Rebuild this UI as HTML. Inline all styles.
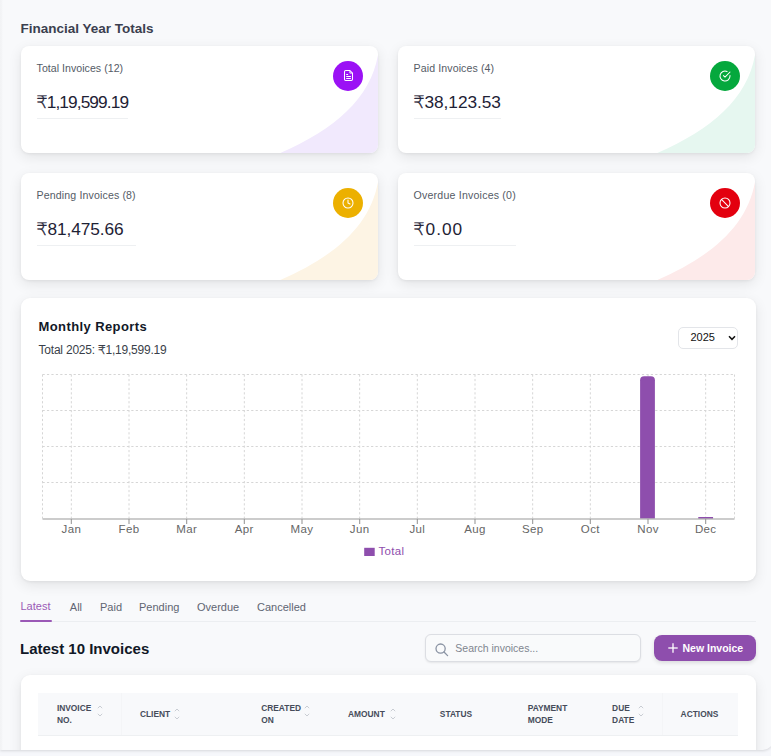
<!DOCTYPE html>
<html><head><meta charset="utf-8">
<style>
*{box-sizing:border-box;margin:0;padding:0}
html,body{width:771px;height:756px;overflow:hidden}
body{background:#f6f7fb;font-family:"Liberation Sans","DejaVu Sans",sans-serif;position:relative;color:#1f2937}
.abs{position:absolute}
.rs{font-family:"DejaVu Sans",sans-serif;font-weight:200;-webkit-text-stroke:0.35px}
.main{position:absolute;left:0;top:0;width:773px;height:749.5px;overflow:hidden;background:#f8f9fb;border-radius:0 0 10px 0;box-shadow:0 1px 3px rgba(0,0,0,.13)}
.lstrip{position:absolute;left:0;top:0;width:3.3px;height:756px;background:linear-gradient(to right,#f2f3f5 0%,#f3f4f6 45%,#f8f9fb 100%)}
.h1{position:absolute;left:20.5px;top:20.5px;font-size:13.5px;font-weight:700;color:#3b3f4f;white-space:nowrap}
.card{position:absolute;background:#fff;border-radius:8px;box-shadow:0 4px 14px rgba(0,0,0,.09),0 1px 3px rgba(0,0,0,.06);overflow:hidden;width:357.8px;height:107.6px}
.card svg.deco{position:absolute;left:0;top:0}
.card .wrap{position:absolute;left:16px;top:14px}
.card .lbl{font-size:10.6px;line-height:16px;color:#555b66;white-space:nowrap}
.card .amt{margin-top:15.5px;font-size:17.3px;line-height:22px;color:#1e2235;white-space:nowrap;padding-bottom:4.5px;border-bottom:1px solid #eef0f2}
.card .ic{position:absolute;left:312.4px;top:15px;width:30.2px;height:30.2px;border-radius:50%}
.panel{position:absolute;left:20.6px;top:298px;width:735px;height:283px;background:#fff;border-radius:9px;box-shadow:0 4px 14px rgba(0,0,0,.09),0 1px 3px rgba(0,0,0,.06)}
.mr{position:absolute;left:38.5px;top:319px;font-size:13px;letter-spacing:0.4px;font-weight:700;color:#111827;white-space:nowrap}
.mt{position:absolute;left:38.5px;top:343px;font-size:12px;letter-spacing:-0.21px;color:#3a3f4a;white-space:nowrap}
.sel{position:absolute;left:677.5px;top:326.5px;width:60px;height:22px;border:1px solid #e3e5e9;border-radius:5px;background:#fff}
.sel span{position:absolute;left:12px;top:3.5px;font-size:11px;color:#111;}
.tabs{position:absolute;left:20px;top:600.7px;font-size:11px;color:#5f6572;white-space:nowrap}
.tabs span{position:absolute;top:0}
.tline{position:absolute;left:20px;top:620.5px;width:735.5px;height:1px;background:#eceef1}
.tact{position:absolute;left:20px;top:619.5px;width:31.5px;height:2.5px;background:#9b59b6;border-radius:1px}
.h2{position:absolute;left:20px;top:640px;font-size:15px;font-weight:700;color:#111827;white-space:nowrap}
.search{position:absolute;left:425.3px;top:634.2px;width:216px;height:28.2px;border:1px solid #dcdee3;border-radius:6px;background:#f9fafb;box-shadow:0 1px 2px rgba(0,0,0,.08)}
.search span{position:absolute;left:29px;top:7px;font-size:10.5px;color:#80858f}
.btn{position:absolute;left:654px;top:634.8px;width:102px;height:26.5px;border-radius:8px;background:#8e4ead;box-shadow:0 2px 4px rgba(0,0,0,.12)}
.btn span{position:absolute;left:28.5px;top:7px;font-size:10.5px;font-weight:700;color:#fff;white-space:nowrap}
.tcard{position:absolute;left:20.6px;top:674.7px;width:735px;height:100px;background:#fff;border-radius:9px;box-shadow:0 4px 14px rgba(0,0,0,.09),0 1px 3px rgba(0,0,0,.06)}
.thead{position:absolute;left:38.2px;top:692.5px;width:699.5px;height:43.3px;background:#f8f9fb;border-bottom:1px solid #eef0f2}
.sa{position:absolute}
.th{position:absolute;font-size:8.4px;font-weight:700;color:#464c5a;line-height:12px;white-space:nowrap}
</style></head><body>
<div class="main">
<div class="lstrip"></div>
<div class="h1">Financial Year Totals</div>

<!-- card 1 -->
<div class="card" style="left:20.6px;top:45.8px">
  <svg class="deco" width="358" height="108"><path d="M257.5 107.8 C317.1 82.2 353.8 48.7 358.2 0 L360 0 L360 110 L257.5 110 Z" fill="#f1e9fd"/></svg>
  <div class="wrap"><div class="lbl" style="letter-spacing:0.03px">Total Invoices (12)</div><div class="amt" style="letter-spacing:-0.9px"><span class="rs">₹</span>1,19,599.19</div></div>
  <div class="ic" style="background:#9b12f5"></div>
</div>
<!-- card 2 -->
<div class="card" style="left:397.6px;top:45.8px">
  <svg class="deco" width="358" height="108"><path d="M257.5 107.8 C317.1 82.2 353.8 48.7 358.2 0 L360 0 L360 110 L257.5 110 Z" fill="#e6f7f0"/></svg>
  <div class="wrap"><div class="lbl" style="letter-spacing:0.1px">Paid Invoices (4)</div><div class="amt" style="letter-spacing:-0.07px"><span class="rs">₹</span>38,123.53</div></div>
  <div class="ic" style="background:#05a83d"></div>
</div>
<!-- card 3 -->
<div class="card" style="left:20.6px;top:172.6px">
  <svg class="deco" width="358" height="108"><path d="M257.5 107.8 C317.1 82.2 353.8 48.7 358.2 0 L360 0 L360 110 L257.5 110 Z" fill="#fdf4e4"/></svg>
  <div class="wrap"><div class="lbl" style="letter-spacing:0.13px">Pending Invoices (8)</div><div class="amt" style="letter-spacing:-0.1px"><span class="rs">₹</span>81,475.66</div></div>
  <div class="ic" style="background:#ecb000"></div>
</div>
<!-- card 4 -->
<div class="card" style="left:397.6px;top:172.6px">
  <svg class="deco" width="358" height="108"><path d="M257.5 107.8 C317.1 82.2 353.8 48.7 358.2 0 L360 0 L360 110 L257.5 110 Z" fill="#fdeaea"/></svg>
  <div class="wrap"><div class="lbl" style="letter-spacing:0.2px">Overdue Invoices (0)</div><div class="amt" style="letter-spacing:1.0px"><span class="rs">₹</span>0.00</div></div>
  <div class="ic" style="background:#e3000f"></div>
</div>

<svg class="abs" style="left:341px;top:69px" width="14" height="14" viewBox="0 0 14 14" fill="none" stroke="#fff" stroke-width="1.05" stroke-linejoin="round"><path d="M8.9 1.5 H4.7 Q3.5 1.5 3.5 2.7 V10.3 Q3.5 11.5 4.7 11.5 H10.3 Q11.5 11.5 11.5 10.3 V4.1 Z"/><polyline points="8.9 1.7 8.9 4.1 11.3 4.1" stroke-width="0.9"/><line x1="5.2" y1="5.5" x2="7.1" y2="5.5"/><line x1="5.2" y1="7.5" x2="9.9" y2="7.5"/><line x1="5.2" y1="9.5" x2="9.9" y2="9.5"/></svg>
<svg class="abs" style="left:715.10px;top:65.80px" width="20" height="20" viewBox="0 0 20 20" fill="none" stroke="#fff" stroke-linecap="round" stroke-linejoin="round"><g transform="translate(10 10) scale(0.5) translate(-12 -12)" stroke-width="2.10"><path d="M22 11.08V12a10 10 0 1 1-5.93-9.14"/><polyline points="22 4 12 14.01 9 11.01"/></g></svg>
<svg class="abs" style="left:338.10px;top:192.50px" width="20" height="20" viewBox="0 0 20 20" fill="none" stroke="#fff" stroke-linecap="round" stroke-linejoin="round"><g transform="translate(10 10) scale(0.5) translate(-12 -12)" stroke-width="2.10"><circle cx="12" cy="12" r="10"/><polyline points="12 6 12 12 16 14"/></g></svg>
<svg class="abs" style="left:715.10px;top:192.50px" width="20" height="20" viewBox="0 0 20 20" fill="none" stroke="#fff" stroke-linecap="round" stroke-linejoin="round"><g transform="translate(10 10) scale(0.5) translate(-12 -12)" stroke-width="2.10"><circle cx="12" cy="12" r="10"/><line x1="4.93" y1="4.93" x2="19.07" y2="19.07"/></g></svg>
<div class="panel"></div>
<div class="mr">Monthly Reports</div>
<div class="mt">Total 2025: <span class="rs">₹</span>1,19,599.19</div>
<svg class="abs" style="left:0;top:0" width="771" height="756">
<g stroke="#d6d6d6" stroke-width="1" stroke-dasharray="2.22 2.22" fill="none"><line x1="42.5" y1="374.5" x2="734.5" y2="374.5"/><line x1="42.5" y1="410.5" x2="734.5" y2="410.5"/><line x1="42.5" y1="446.5" x2="734.5" y2="446.5"/><line x1="42.5" y1="482.5" x2="734.5" y2="482.5"/><line x1="42.5" y1="374.5" x2="42.5" y2="518.5"/><line x1="71.33" y1="374.5" x2="71.33" y2="518.5"/><line x1="129.0" y1="374.5" x2="129.0" y2="518.5"/><line x1="186.67" y1="374.5" x2="186.67" y2="518.5"/><line x1="244.33" y1="374.5" x2="244.33" y2="518.5"/><line x1="302.0" y1="374.5" x2="302.0" y2="518.5"/><line x1="359.67" y1="374.5" x2="359.67" y2="518.5"/><line x1="417.33" y1="374.5" x2="417.33" y2="518.5"/><line x1="475.0" y1="374.5" x2="475.0" y2="518.5"/><line x1="532.67" y1="374.5" x2="532.67" y2="518.5"/><line x1="590.33" y1="374.5" x2="590.33" y2="518.5"/><line x1="648.0" y1="374.5" x2="648.0" y2="518.5"/><line x1="705.67" y1="374.5" x2="705.67" y2="518.5"/><line x1="734.5" y1="374.5" x2="734.5" y2="518.5"/></g>
<path d="M640.1 518.5 V380.2 a4 4 0 0 1 4 -4 h6.8 a4 4 0 0 1 4 4 V518.5 Z" fill="#8e4ead"/>
<rect x="698.27" y="517" width="14.8" height="1.6" fill="#8e4ead"/>
<g stroke="#9a9a9a" stroke-width="1.1" fill="none"><line x1="42.5" y1="519" x2="734.5" y2="519"/><line x1="71.33" y1="519" x2="71.33" y2="524"/><line x1="129.0" y1="519" x2="129.0" y2="524"/><line x1="186.67" y1="519" x2="186.67" y2="524"/><line x1="244.33" y1="519" x2="244.33" y2="524"/><line x1="302.0" y1="519" x2="302.0" y2="524"/><line x1="359.67" y1="519" x2="359.67" y2="524"/><line x1="417.33" y1="519" x2="417.33" y2="524"/><line x1="475.0" y1="519" x2="475.0" y2="524"/><line x1="532.67" y1="519" x2="532.67" y2="524"/><line x1="590.33" y1="519" x2="590.33" y2="524"/><line x1="648.0" y1="519" x2="648.0" y2="524"/><line x1="705.67" y1="519" x2="705.67" y2="524"/></g>
<g font-family="Liberation Sans, DejaVu Sans, sans-serif" font-size="11.5" letter-spacing="0.35" fill="#666" text-anchor="middle"><text x="71.33" y="533">Jan</text><text x="129.0" y="533">Feb</text><text x="186.67" y="533">Mar</text><text x="244.33" y="533">Apr</text><text x="302.0" y="533">May</text><text x="359.67" y="533">Jun</text><text x="417.33" y="533">Jul</text><text x="475.0" y="533">Aug</text><text x="532.67" y="533">Sep</text><text x="590.33" y="533">Oct</text><text x="648.0" y="533">Nov</text><text x="705.67" y="533">Dec</text></g>
<rect x="364.2" y="547.8" width="10.5" height="8.2" fill="#8e4ead"/>
<text x="378.5" y="554.6" font-family="Liberation Sans, DejaVu Sans, sans-serif" font-size="11.5" letter-spacing="0.3" fill="#8e4ead">Total</text>
</svg>
<div class="sel"><span>2025</span><svg style="position:absolute;left:49.3px;top:7.2px" width="8" height="6" viewBox="0 0 8 6"><path d="M1 1.2 L4 4.3 L7 1.2" fill="none" stroke="#111" stroke-width="1.5"/></svg></div>

<div class="tabs">
  <span style="left:0.5px;top:-0.6px;color:#9b59b6">Latest</span>
  <span style="left:49.8px">All</span>
  <span style="left:80px">Paid</span>
  <span style="left:119px">Pending</span>
  <span style="left:177px">Overdue</span>
  <span style="left:237px">Cancelled</span>
</div>
<div class="tline"></div>
<div class="tact"></div>
<div class="h2">Latest 10 Invoices</div>
<div class="search"><svg style="position:absolute;left:9px;top:7.5px" width="14" height="14" viewBox="0 0 14 14" fill="none" stroke="#8a93a3" stroke-width="1.3" stroke-linecap="round"><circle cx="5.6" cy="5.6" r="4.6"/><line x1="9" y1="9" x2="12.6" y2="12.6"/></svg><span>Search invoices...</span></div>
<div class="btn"><svg style="position:absolute;left:13.5px;top:8.5px" width="10" height="10" viewBox="0 0 10 10" stroke="#fff" stroke-width="1.3"><line x1="5" y1="0.3" x2="5" y2="9.7"/><line x1="0.3" y1="5" x2="9.7" y2="5"/></svg><span>New Invoice</span></div>

<div class="tcard"></div>
<div class="thead"></div>
<div class="th" style="left:56.9px;top:702px">INVOICE<br>NO.</div>
<svg class="sa" style="left:97px;top:705px" width="6" height="12" viewBox="0 0 6 12" fill="none" stroke="#c3c7ce" stroke-width="0.9"><path d="M0.8 3.2 L3 1 L5.2 3.2"/><path d="M0.8 8.8 L3 11 L5.2 8.8"/></svg>
<div class="th" style="left:139.9px;top:708px">CLIENT</div>
<svg class="sa" style="left:173.6px;top:708px" width="6" height="12" viewBox="0 0 6 12" fill="none" stroke="#c3c7ce" stroke-width="0.9"><path d="M0.8 3.2 L3 1 L5.2 3.2"/><path d="M0.8 8.8 L3 11 L5.2 8.8"/></svg>
<div class="th" style="left:261.2px;top:702px">CREATED<br>ON</div>
<svg class="sa" style="left:304.4px;top:705px" width="6" height="12" viewBox="0 0 6 12" fill="none" stroke="#c3c7ce" stroke-width="0.9"><path d="M0.8 3.2 L3 1 L5.2 3.2"/><path d="M0.8 8.8 L3 11 L5.2 8.8"/></svg>
<div class="th" style="left:348px;top:708px">AMOUNT</div>
<svg class="sa" style="left:390.3px;top:708px" width="6" height="12" viewBox="0 0 6 12" fill="none" stroke="#c3c7ce" stroke-width="0.9"><path d="M0.8 3.2 L3 1 L5.2 3.2"/><path d="M0.8 8.8 L3 11 L5.2 8.8"/></svg>
<div class="th" style="left:439.8px;top:708px">STATUS</div>
<div class="th" style="left:527.7px;top:702px">PAYMENT<br>MODE</div>
<div class="th" style="left:612.1px;top:702px">DUE<br>DATE</div>
<svg class="sa" style="left:638.2px;top:705px" width="6" height="12" viewBox="0 0 6 12" fill="none" stroke="#c3c7ce" stroke-width="0.9"><path d="M0.8 3.2 L3 1 L5.2 3.2"/><path d="M0.8 8.8 L3 11 L5.2 8.8"/></svg>
<div class="th" style="left:680.6px;top:708px">ACTIONS</div>
<div style="position:absolute;left:121px;top:693px;width:1px;height:42px;background:#f4f5f7"></div>
<div style="position:absolute;left:662px;top:693px;width:1px;height:42px;background:#f4f5f7"></div>
</div>
</body></html>
